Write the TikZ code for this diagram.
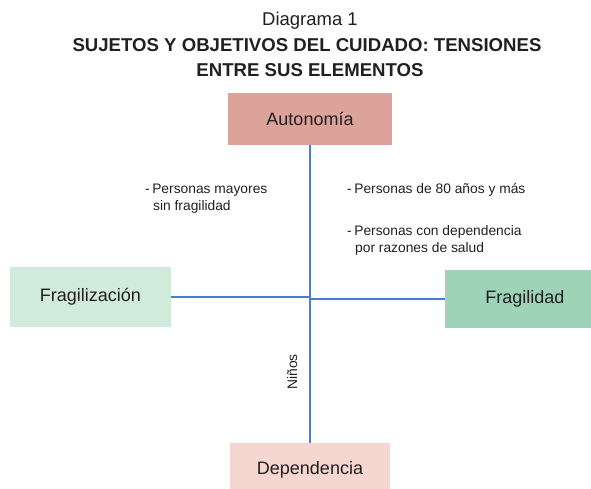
\documentclass[tikz,border=0pt]{standalone}
\usepackage{fontspec}
\setmainfont{Liberation Sans}
\definecolor{txt}{HTML}{231F20}
\definecolor{autc}{HTML}{DCA39B}
\definecolor{depc}{HTML}{F5D6D0}
\definecolor{frzc}{HTML}{D0EBDC}
\definecolor{frdc}{HTML}{9DD4B8}
\definecolor{linec}{HTML}{4A7FC6}
\tikzset{
  box/.style={draw=none, inner sep=0pt, text=txt, font=\fontsize{18}{20}\selectfont},
  conn/.style={draw=linec, line width=1.8pt},
  note/.style={text=txt, inner sep=0pt, anchor=base west, align=left, font=\fontsize{13.8}{17}\selectfont},
  ttl/.style={text=txt, inner sep=0pt, anchor=base, font=\fontsize{18.5}{22}\selectfont}
}
\begin{document}
\begin{tikzpicture}[x=1pt,y=-1pt]
\useasboundingbox (0,0) rectangle (591,488);
\clip (0,0) rectangle (591,488);
\node[ttl] (t1) at (310,25) {Diagrama 1};
\node[ttl, font=\fontsize{18.6}{22}\selectfont\bfseries] (t2) at (307,51) {SUJETOS Y OBJETIVOS DEL CUIDADO: TENSIONES};
\node[ttl, font=\fontsize{18.6}{22}\selectfont\bfseries] (t3) at (310,76) {ENTRE SUS ELEMENTOS};

\node[box, fill=autc, minimum width=164pt, minimum height=52pt] (aut) at (310,119) {Autonomía};
\node[box, fill=depc, minimum width=160pt, minimum height=54pt] (dep) at (310,470) {Dependencia};
\node[box, fill=frzc, minimum width=161pt, minimum height=60pt] (frz) at (90.5,297) {Fragilización};
\node[box, fill=frdc, minimum width=160pt, minimum height=58pt] (frd) at (525,299) {Fragilidad};

\coordinate (c) at (310,298);
\draw[conn] (aut.south) -- (dep.north);
\draw[conn] (frz.east) -- (frz.east -| c);
\draw[conn] (c |- frd.west) -- (frd.west);

\node[note] (n1) at (145,210) {-\hspace{2.5pt}Personas mayores\\\hspace{8pt}sin fragilidad};
\node[note] (n2) at (347,193) {-\hspace{2.5pt}Personas de 80 años y más};
\node[note] (n3) at (347,252) {-\hspace{2.5pt}Personas con dependencia\\\hspace{8pt}por razones de salud};
\node[note, anchor=base, rotate=90] (n4) at (297,372) {Niños};
\end{tikzpicture}
\end{document}
